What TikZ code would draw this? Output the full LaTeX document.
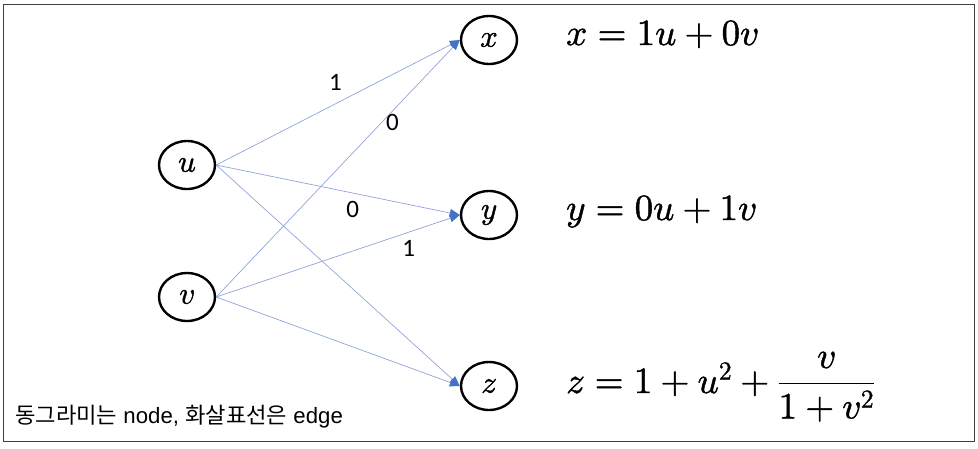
\documentclass[tikz,border=0pt]{standalone}
\usepackage{fontspec}
\usepackage{unicode-math}
\setmainfont{Liberation Sans}
\setmathfont{Latin Modern Math}[FakeBold=1.2]
\newfontfamily\krfont{Noto Sans CJK KR}
\newfontfamily\numfont{Carlito}
\usetikzlibrary{shapes.geometric,arrows.meta}

\begin{document}
\begin{tikzpicture}[x=1pt, y=-1pt,
    vertex/.style={ellipse, draw, line width=2.4pt, minimum width=56pt, minimum height=48pt, inner sep=0pt, font=\fontsize{31}{36}\selectfont},
    link/.style={draw=lineColour, line width=0.7pt, -{Triangle[length=10pt, width=8pt, color=tipColour]}},
    wlabel/.style={inner sep=1pt, font={\fontsize{25}{30}\numfont}},
    formula/.style={anchor=base west, inner sep=0pt, font=\fontsize{37}{44}\selectfont}]

    \definecolor{lineColour}{HTML}{8FA4D8}
    \definecolor{tipColour}{HTML}{4472C4}
    \definecolor{frameColour}{HTML}{404040}

    % Page and frame
    \useasboundingbox (0,0) rectangle (978,448);
    \draw[frameColour, line width=1.6pt] (3.5,4.5) rectangle (974.5,441.5);

    % Input nodes
    \node[vertex] (u) at (187,165) {$u$};
    \node[vertex] (v) at (187,297) {$v$};

    % Output nodes
    \node[vertex] (x) at (489,40) {$x$};
    \node[vertex] (y) at (489,215) {$y$};
    \node[vertex] (z) at (489,386) {$z$};

    % Edges with weights
    \draw[link] (u.east) -- node[wlabel, pos=0.49, above=12pt] {1} (x.west);
    \draw[link] (u.east) -- node[wlabel, pos=0.56, below=7pt] {0} (y.west);
    \draw[link] (u.east) -- (z.west);
    \draw[link] (v.east) -- node[wlabel, pos=0.68, right=3pt] {0} (x.west);
    \draw[link] (v.east) -- node[wlabel, pos=0.79, below=7pt] {1} (y.west);
    \draw[link] (v.east) -- (z.west);

    % Formulas
    \node[formula] (fx) at (566,45) {$x = 1u + 0v$};
    \node[formula] (fy) at (566,220) {$y = 0u + 1v$};
    \node[formula] (fz) at (566,393) {$z = 1 + u^2 + \displaystyle\frac{v}{1 + v^2}$};

    % Caption
    \node[anchor=base west, inner sep=0pt, font=\fontsize{22.2}{26}\selectfont] (caption) at (15,423)
        {{\krfont 동그라미는} node, {\krfont 화살표선은} edge};

\end{tikzpicture}
\end{document}
